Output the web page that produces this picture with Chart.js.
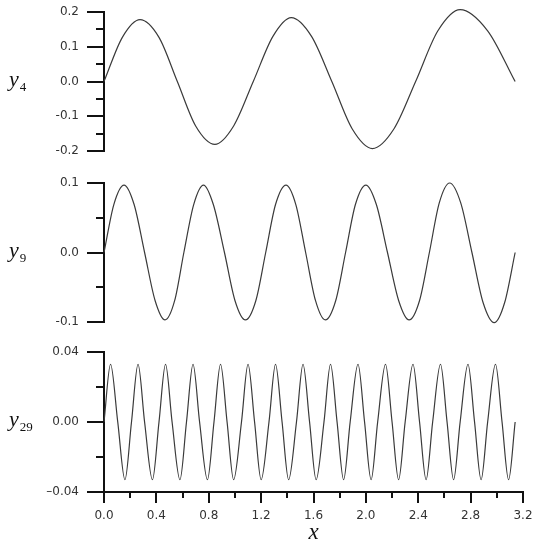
<!DOCTYPE html>
<html lang="en">
<head>
<meta charset="UTF-8">
<title>y4, y9, y29</title>
<script src="https://cdn.jsdelivr.net/npm/chart.js"></script>
<style>
  body { margin: 0; background: #fff; }
  .panel { position: absolute; left: 0; width: 539px; }
</style>
</head>
<body>
<div class="panel" style="top:0;height:165px"><canvas id="c4"></canvas></div>
<div class="panel" style="top:171px;height:165px"><canvas id="c9"></canvas></div>
<div class="panel" style="top:340px;height:210px"><canvas id="c29"></canvas></div>
<script>
// values (zeros, extrema and in-between points)
const y4X = [0, 0.14, 0.275, 0.42, 0.56, 0.70, 0.847, 0.99, 1.14, 1.29, 1.43, 1.585, 1.74,
  1.895, 2.05, 2.215, 2.38, 2.55, 2.72, 2.93, 3.14];
const y4Y = [0, 0.127, 0.178, 0.127, 0, -0.128, -0.181, -0.128, 0, 0.13, 0.184, 0.13, 0,
  -0.136, -0.193, -0.136, 0, 0.146, 0.207, 0.146, 0];

const y9X = [0, 0.075, 0.153, 0.23, 0.31, 0.39, 0.466, 0.54, 0.61, 0.685, 0.76, 0.835, 0.92,
  1.0, 1.08, 1.16, 1.235, 1.31, 1.39, 1.465, 1.54, 1.615, 1.69, 1.77, 1.845, 1.92, 2.0, 2.08,
  2.165, 2.25, 2.33, 2.41, 2.485, 2.56, 2.64, 2.725, 2.81, 2.895, 2.98, 3.06, 3.14];
const y9Y = [0, 0.069, 0.097, 0.069, 0, -0.069, -0.097, -0.069, 0, 0.069, 0.097, 0.069, 0,
  -0.069, -0.097, -0.069, 0, 0.069, 0.097, 0.069, 0, -0.069, -0.097, -0.069, 0, 0.069, 0.097,
  0.069, 0, -0.069, -0.097, -0.069, 0, 0.071, 0.1, 0.071, 0, -0.072, -0.101, -0.072, 0];

const y29X = [0, 0.05, 0.105, 0.16, 0.21, 0.26, 0.31, 0.37, 0.42, 0.47, 0.52, 0.58, 0.63, 0.68,
  0.73, 0.79, 0.84, 0.89, 0.94, 0.99, 1.05, 1.10, 1.15, 1.20, 1.26, 1.31, 1.36, 1.41, 1.47, 1.52,
  1.57, 1.62, 1.68, 1.73, 1.78, 1.83, 1.88, 1.94, 1.99, 2.04, 2.09, 2.15, 2.20, 2.25, 2.30, 2.36,
  2.41, 2.46, 2.51, 2.57, 2.62, 2.67, 2.72, 2.78, 2.83, 2.88, 2.93, 2.99, 3.04, 3.09, 3.14];
const y29Y = [0, 0.033, 0, -0.033, 0, 0.033, 0, -0.033, 0, 0.033, 0, -0.033, 0, 0.033, 0, -0.033,
  0, 0.033, 0, -0.033, 0, 0.033, 0, -0.033, 0, 0.033, 0, -0.033, 0, 0.033, 0, -0.033,
  0, 0.033, 0, -0.033, 0, 0.033, 0, -0.033, 0, 0.033, 0, -0.033, 0, 0.033, 0, -0.033,
  0, 0.033, 0, -0.033, 0, 0.033, 0, -0.033, 0, 0.033, 0, -0.033, 0];

// tick labels
const y4Ticks = [0.2, 0.1, 0, -0.1, -0.2];
const y4Labels = ['0.2', '0.1', '0.0', '-0.1', '-0.2'];
const y9Ticks = [0.1, 0, -0.1];
const y9Labels = ['0.1', '0.0', '-0.1'];
const y29Ticks = [0.04, 0, -0.04];
const y29Labels = ['0.04', '0.00', '\u20130.04'];
const xTicks = [0, 0.4, 0.8, 1.2, 1.6, 2.0, 2.4, 2.8, 3.2];
const xLabels = ['0.0', '0.4', '0.8', '1.2', '1.6', '2.0', '2.4', '2.8', '3.2'];

const ink = '#111';
const tickFont = { family: '"DejaVu Sans"', size: 12 };

function labelFor(ticks, labels) {
  return v => {
    const i = ticks.findIndex(t => Math.abs(t - v) < 1e-6);
    return i < 0 ? '' : labels[i];
  };
}

// major/minor tick marks and the y-axis names with subscripts
const marks = {
  id: 'marks',
  afterDraw(chart, args, opts) {
    const ctx = chart.ctx, area = chart.chartArea;
    ctx.save();
    ctx.strokeStyle = ink;
    ctx.lineWidth = 2;
    const ys = chart.scales.y;
    ys.ticks.forEach(t => {
      const py = Math.round(ys.getPixelForValue(t.value));
      const len = t.label ? 17 : 8;
      ctx.beginPath();
      ctx.moveTo(area.left - len, py);
      ctx.lineTo(area.left, py);
      ctx.stroke();
    });
    const xs = chart.scales.x;
    if (xs.options.display) {
      xs.ticks.forEach(t => {
        const px = Math.round(xs.getPixelForValue(t.value));
        const len = t.label ? 11 : 6;
        ctx.beginPath();
        ctx.moveTo(px, area.bottom);
        ctx.lineTo(px, area.bottom + len);
        ctx.stroke();
      });
    }
    const y0 = ys.getPixelForValue(0);
    ctx.fillStyle = ink;
    ctx.textBaseline = 'alphabetic';
    ctx.font = 'italic 22px "Liberation Serif"';
    ctx.fillText('y', 9, y0 + 4);
    const w = ctx.measureText('y').width;
    ctx.font = '13px "Liberation Serif"';
    ctx.fillText(opts.sub, 9 + w + 1, y0 + 9);
    ctx.restore();
  }
};

function makeChart(id, xs, ys, yMin, yMax, yStep, yTicks, yLabels, sub, showX) {
  const pts = xs.map((x, i) => ({ x: x, y: ys[i] }));
  return new Chart(document.getElementById(id), {
    type: 'line',
    data: {
      datasets: [{
        data: pts,
        borderColor: '#3a3a3a',
        borderWidth: 1.2,
        pointRadius: 0,
        fill: false,
        clip: false,
        cubicInterpolationMode: 'monotone'
      }]
    },
    options: {
      responsive: true,
      maintainAspectRatio: false,
      animation: false,
      devicePixelRatio: 1,
      layout: { padding: { left: 0, right: 16, top: 12, bottom: showX ? 0 : 14 } },
      plugins: {
        legend: { display: false },
        tooltip: { enabled: false },
        marks: { sub: sub }
      },
      scales: {
        x: {
          type: 'linear',
          min: 0, max: 3.2,
          display: showX,
          afterFit: s => {
            if (showX) s.height = 58;
            s.paddingLeft = 0;
            s.paddingRight = 0;
          },
          grid: { display: false, drawTicks: false },
          border: { display: true, color: ink, width: 2 },
          ticks: {
            stepSize: 0.2, autoSkip: false, maxRotation: 0, padding: 17,
            color: '#333', font: tickFont,
            callback: labelFor(xTicks, xLabels)
          },
          title: {
            display: true, text: 'x', color: ink,
            font: { family: '"Liberation Serif"', size: 23, style: 'italic' },
            padding: { top: 0, bottom: 3 }
          }
        },
        y: {
          min: yMin, max: yMax,
          afterFit: s => {
            s.width = 104;
            s.paddingTop = 0;
            s.paddingBottom = 0;
          },
          grid: { display: false, drawTicks: false },
          border: { display: true, color: ink, width: 2 },
          ticks: {
            stepSize: yStep, autoSkip: false, padding: 25,
            color: '#333', font: tickFont,
            callback: labelFor(yTicks, yLabels)
          }
        }
      }
    },
    plugins: [marks]
  });
}

makeChart('c4', y4X, y4Y, -0.2, 0.2, 0.05, y4Ticks, y4Labels, '4', false);
makeChart('c9', y9X, y9Y, -0.1, 0.1, 0.05, y9Ticks, y9Labels, '9', false);
makeChart('c29', y29X, y29Y, -0.04, 0.04, 0.02, y29Ticks, y29Labels, '29', true);
</script>
</body>
</html>
